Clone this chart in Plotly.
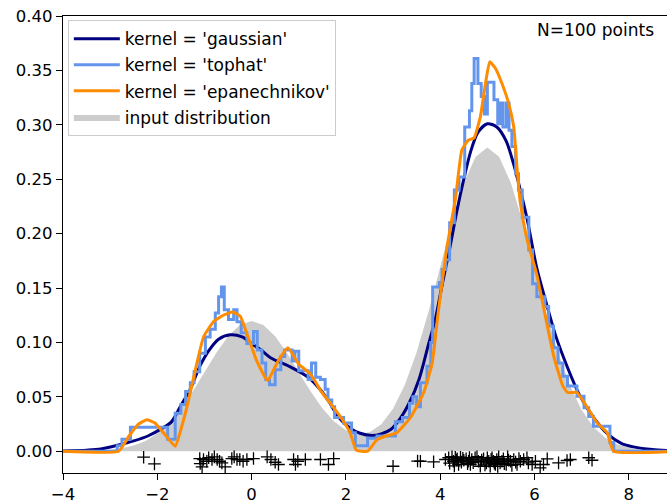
import plotly.graph_objects as go

# ---- input distribution (true density) ----
dist_x = [-4.0, -3.75, -3.5, -3.25, -3.0, -2.75, -2.5, -2.25, -2.0, -1.75, -1.5, -1.25,
          -1.0, -0.75, -0.5, -0.25, 0.0, 0.25, 0.5, 0.75, 1.0, 1.25, 1.5, 1.75, 2.0,
          2.25, 2.5, 2.75, 3.0, 3.25, 3.5, 3.75, 4.0, 4.25, 4.5, 4.75, 5.0, 5.25, 5.5,
          5.75, 6.0, 6.25, 6.5, 6.75, 7.0, 7.25, 7.5, 7.75, 8.0, 8.25, 8.5, 8.75, 9.0]
dist_y = [0.0000, 0.0001, 0.0003, 0.0006, 0.0013, 0.0027, 0.0053, 0.0095, 0.0162, 0.0259,
          0.0389, 0.0548, 0.0726, 0.0903, 0.1056, 0.1160, 0.1197, 0.1160, 0.1056, 0.0903,
          0.0727, 0.0551, 0.0395, 0.0273, 0.0193, 0.0159, 0.0175, 0.0249, 0.0391, 0.0610,
          0.0909, 0.1279, 0.1694, 0.2108, 0.2465, 0.2707, 0.2792, 0.2707, 0.2465, 0.2108,
          0.1694, 0.1278, 0.0907, 0.0604, 0.0378, 0.0222, 0.0123, 0.0064, 0.0031, 0.0014,
          0.0006, 0.0002, 0.0001]

# ---- gaussian kernel estimate ----
gauss_x = [-4.0, -3.5, -3.2, -2.8, -2.5, -2.2, -1.9, -1.7, -1.5, -1.3, -1.1, -0.9, -0.7,
           -0.45, -0.2, 0.0, 0.2, 0.4, 0.8, 1.2, 1.45, 1.65, 1.85, 2.1, 2.3, 2.55, 2.75,
           2.95, 3.15, 3.35, 3.55, 3.75, 3.9, 4.05, 4.2, 4.35, 4.5, 4.65, 4.8, 5.0, 5.2,
           5.4, 5.55, 5.7, 5.85, 6.05, 6.25, 6.45, 6.7, 6.95, 7.25, 7.55, 7.85, 8.1, 8.5, 8.9]
gauss_y = [0.0003, 0.001, 0.002, 0.006, 0.0095, 0.014, 0.021, 0.027, 0.042, 0.057, 0.078,
           0.093, 0.103, 0.107, 0.105, 0.099, 0.093, 0.086, 0.078, 0.068, 0.057, 0.045,
           0.031, 0.021, 0.0165, 0.0145, 0.016, 0.02, 0.03, 0.045, 0.066, 0.098, 0.122,
           0.155, 0.186, 0.22, 0.25, 0.276, 0.293, 0.301, 0.298, 0.285, 0.265, 0.24, 0.212,
           0.168, 0.136, 0.106, 0.077, 0.052, 0.031, 0.016, 0.007, 0.004, 0.0015, 0.0005]

# ---- tophat kernel estimate (step starts) ----
top_x = [-4.0, -2.85, -2.75, -2.57, -1.78, -1.62, -1.5, -1.4, -1.3, -1.22, -1.1, -0.98,
         -0.88, -0.77, -0.70, -0.64, -0.58, -0.49, -0.38, -0.31, -0.22, -0.10, 0.04, 0.12,
         0.22, 0.30, 0.38, 0.50, 0.62, 0.70, 0.86, 0.92, 1.0, 1.2, 1.27, 1.36, 1.46, 1.56,
         1.62, 1.7, 1.76, 1.95, 2.12, 2.2, 2.46, 2.66, 3.05, 3.2, 3.35, 3.42, 3.5, 3.58,
         3.72, 3.8, 3.84, 3.98, 4.04, 4.12, 4.2, 4.3, 4.4, 4.52, 4.62, 4.67, 4.72, 4.8,
         4.87, 4.94, 5.0, 5.14, 5.22, 5.27, 5.33, 5.4, 5.46, 5.52, 5.6, 5.66, 5.74, 5.88,
         5.96, 6.05, 6.22, 6.3, 6.4, 6.5, 6.6, 6.7, 6.9, 7.05, 7.15, 7.25, 7.6, 7.68, 9.0]
top_y = [0.0, 0.005, 0.011, 0.022, 0.011, 0.035, 0.043, 0.055, 0.063, 0.073, 0.09, 0.105,
         0.112, 0.127, 0.142, 0.151, 0.13, 0.121, 0.13, 0.119, 0.109, 0.099, 0.11, 0.093,
         0.081, 0.066, 0.061, 0.075, 0.087, 0.093, 0.083, 0.092, 0.074, 0.066, 0.081, 0.068,
         0.066, 0.057, 0.047, 0.041, 0.031, 0.026, 0.017, 0.005, 0.012, 0.014, 0.027, 0.031,
         0.044, 0.05, 0.041, 0.063, 0.078, 0.1, 0.151, 0.155, 0.167, 0.176, 0.21, 0.24,
         0.252, 0.298, 0.313, 0.338, 0.361, 0.338, 0.326, 0.31, 0.339, 0.323, 0.301, 0.32,
         0.298, 0.32, 0.295, 0.28, 0.255, 0.24, 0.215, 0.185, 0.154, 0.142, 0.133, 0.115,
         0.095, 0.081, 0.069, 0.06, 0.0505, 0.04, 0.032, 0.023, 0.008, 0.0, 0.0]

# ---- epanechnikov kernel estimate ----
epa_x = [-4.0, -2.82, -2.6, -2.4, -2.22, -2.05, -1.85, -1.62, -1.5, -1.37, -1.16, -1.02,
         -0.81, -0.6, -0.4, -0.24, -0.1, 0.1, 0.34, 0.55, 0.77, 1.0, 1.25, 1.46, 1.67,
         1.88, 2.09, 2.22, 2.46, 2.66, 2.85, 3.08, 3.37, 3.65, 3.83, 3.95, 4.14, 4.32,
         4.46, 4.6, 4.72, 4.85, 4.96, 5.05, 5.17, 5.31, 5.45, 5.56, 5.63, 5.7, 5.84, 6.05,
         6.23, 6.41, 6.6, 6.7, 6.9, 7.11, 7.33, 7.54, 7.68, 9.0]
epa_y = [0.0, 0.0, 0.014, 0.025, 0.029, 0.026, 0.016, 0.0045, 0.02, 0.041, 0.081, 0.105,
         0.119, 0.125, 0.128, 0.124, 0.108, 0.084, 0.065, 0.082, 0.095, 0.08, 0.071, 0.056,
         0.044, 0.032, 0.017, 0.001, 0.0, 0.0107, 0.014, 0.017, 0.031, 0.054, 0.081, 0.125,
         0.187, 0.231, 0.277, 0.286, 0.288, 0.307, 0.338, 0.358, 0.352, 0.338, 0.32, 0.298,
         0.26, 0.228, 0.195, 0.162, 0.124, 0.087, 0.06, 0.054, 0.054, 0.041, 0.026, 0.017,
         0.0, 0.0]

# ---- sample points (+ markers under the axis) ----
pts_x = [-2.29, -2.06, -1.10, -1.09, -1.05, -1.02, -0.95, -0.91, -0.84, -0.79, -0.73,
         -0.68, -0.63, -0.56, -0.42, -0.37, -0.31, -0.25, -0.18, -0.10, 0.04, 0.33, 0.41,
         0.50, 0.57, 0.89, 0.93, 0.98, 1.14, 1.46, 1.63, 1.74,
         3.00, 3.52, 3.58, 3.86, 4.11, 4.18, 4.20, 4.25, 4.28, 4.30, 4.32, 4.35, 4.36, 4.39,
         4.43, 4.45, 4.48, 4.50, 4.55, 4.58, 4.60, 4.62, 4.64, 4.67, 4.70, 4.74, 4.78, 4.81,
         4.85, 4.88, 4.92, 4.95, 4.98, 5.00, 5.03, 5.06, 5.08, 5.10, 5.13, 5.15, 5.17, 5.20,
         5.22, 5.24, 5.27, 5.31, 5.34, 5.36, 5.40, 5.43, 5.45, 5.49, 5.52, 5.56, 5.60, 5.63,
         5.67, 5.70, 5.77, 5.84, 5.87, 5.95, 6.02, 6.12, 6.19, 6.27, 6.51, 6.69, 6.76, 7.15,
         7.22]
pts_y = [-0.0055, -0.0116, -0.0067, -0.0113, -0.0143, -0.0076, -0.0092, -0.0060, -0.0076,
         -0.0052, -0.0076, -0.0092, -0.0107, -0.0143, -0.0067, -0.0052, -0.0076, -0.0076,
         -0.0092, -0.0076, -0.0067, -0.0052, -0.0076, -0.0101, -0.0122, -0.0076, -0.0122,
         -0.0092, -0.0076, -0.0076, -0.0122, -0.0067,
         -0.0138, -0.0090, -0.0092, -0.0097, -0.0076, -0.0060, -0.0110, -0.0050, -0.0092,
         -0.0135, -0.0055, -0.0080, -0.0070, -0.0122, -0.0055, -0.0100, -0.0065, -0.0083,
         -0.0070, -0.0115, -0.0092, -0.0058, -0.0122, -0.0076, -0.0105, -0.0060, -0.0050,
         -0.0092, -0.0138, -0.0080, -0.0070, -0.0125, -0.0107, -0.0060, -0.0092, -0.0138,
         -0.0075, -0.0060, -0.0092, -0.0110, -0.0122, -0.0076, -0.0140, -0.0050, -0.0107,
         -0.0092, -0.0070, -0.0115, -0.0122, -0.0050, -0.0082, -0.0092, -0.0130, -0.0076,
         -0.0100, -0.0122, -0.0068, -0.0092, -0.0076, -0.0060, -0.0107, -0.0122, -0.0092,
         -0.0153, -0.0122, -0.0070, -0.0107, -0.0085, -0.0076, -0.0060, -0.0083]

x_ticks = [-4, -2, 0, 2, 4, 6, 8]
x_tick_labels = ["\u22124", "\u22122", "0", "2", "4", "6", "8"]
y_ticks = [0.0, 0.05, 0.10, 0.15, 0.20, 0.25, 0.30, 0.35, 0.40]
y_tick_labels = ["0.00", "0.05", "0.10", "0.15", "0.20", "0.25", "0.30", "0.35", "0.40"]

FONT = "DejaVu Sans"
FS = 16.5
LEG_FS = 17
LW = 3.0

fig = go.Figure()
fig.add_trace(go.Scatter(x=dist_x, y=dist_y, mode="lines", fill="tozeroy",
                         fillcolor="rgba(0,0,0,0.2)", line=dict(width=0, color="rgba(0,0,0,0)"),
                         name="input distribution", legendrank=4, legendgroup="d"))
fig.add_trace(go.Scatter(x=gauss_x, y=gauss_y, mode="lines",
                         line=dict(color="#000080", width=LW, shape="spline", smoothing=0.8),
                         name="kernel = 'gaussian'", legendrank=1, legendgroup="a"))
fig.add_trace(go.Scatter(x=top_x, y=top_y, mode="lines",
                         line=dict(color="#6495ed", width=LW, shape="hv"),
                         name="kernel = 'tophat'", legendrank=2, legendgroup="b"))
fig.add_trace(go.Scatter(x=epa_x, y=epa_y, mode="lines",
                         line=dict(color="#ff8c00", width=LW, shape="spline", smoothing=0.4),
                         name="kernel = 'epanechnikov'", legendrank=3, legendgroup="c"))
fig.add_trace(go.Scatter(x=pts_x, y=pts_y, mode="markers",
                         marker=dict(symbol="cross-thin", size=9, color="black",
                                     line=dict(color="black", width=1.3)),
                         showlegend=False))

fig.add_annotation(x=6, y=0.3869, xref="x", yref="y", text="N=100 points",
                   showarrow=False, xanchor="left", yanchor="middle",
                   font=dict(family=FONT, size=LEG_FS, color="black"))

fig.update_layout(
    width=667, height=504,
    margin=dict(l=63, r=0, t=16, b=31),
    paper_bgcolor="white", plot_bgcolor="white",
    font=dict(family=FONT, size=FS, color="black"),
    showlegend=True,
    legend=dict(x=0.008, y=0.991, xanchor="left", yanchor="top",
                bgcolor="rgba(255,255,255,0.8)", bordercolor="#cccccc", borderwidth=1,
                font=dict(family=FONT, size=LEG_FS, color="black"),
                traceorder="grouped", tracegroupgap=1, itemwidth=46),
    xaxis=dict(range=[-4, 8.81], tickvals=x_ticks, ticktext=x_tick_labels,
               showgrid=False, zeroline=False, showline=True, linecolor="black",
               linewidth=1.2, mirror=True, ticks="outside", ticklen=6,
               tickcolor="black", tickwidth=1.2, automargin=False),
    yaxis=dict(range=[-0.02, 0.40], tickvals=y_ticks, ticktext=y_tick_labels,
               showgrid=False, zeroline=False, showline=True, linecolor="black",
               linewidth=1.2, ticks="outside", ticklen=6, tickcolor="black",
               tickwidth=1.2, automargin=False),
)

fig.write_html("out.html", config={"displayModeBar": False},
               post_script="document.body.style.margin='0';document.body.style.padding='0';")
